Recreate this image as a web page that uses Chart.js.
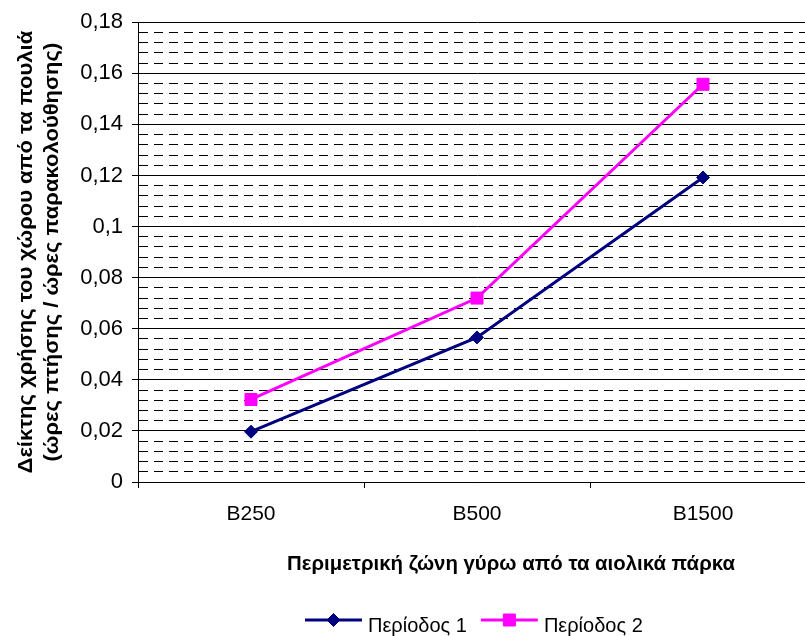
<!DOCTYPE html>
<html>
<head>
<meta charset="utf-8">
<script src="https://cdn.jsdelivr.net/npm/chart.js@4/dist/chart.umd.min.js"></script>
<style>
  html, body { margin: 0; padding: 0; background: #fff; overflow: hidden; }
  canvas { display: block; }
</style>
</head>
<body>
<canvas id="chart" width="830" height="636"></canvas>
<script>
// Categories and series
const zones = ['B250', 'B500', 'B1500'];
const period1 = [0.0197, 0.0566, 0.1192];
const period2 = [0.0323, 0.0720, 0.1557];
const seriesNames = ['Περίοδος 1', 'Περίοδος 2'];

// Axis text
const yTitleLines = ['Δείκτης χρήσης του χώρου από τα πουλιά', '(ώρες πτήσης / ώρες παρακολούθησης)'];
const xTitle = 'Περιμετρική ζώνη γύρω από τα αιολικά πάρκα';

// Value axis range: labelled majors every 0.02, dashed minors every 0.004
const yMin = 0, yMax = 0.18, majorStep = 0.02, minorStep = 0.004;

const FONT = '"Liberation Sans", Arial, sans-serif';
const NAVY = '#000080';
const MAGENTA = '#FF00FF';

function isMajor(v) {
  const r = v / majorStep;
  return Math.abs(r - Math.round(r)) < 1e-6;
}
function formatTick(v) {
  return String(+v.toFixed(4)).replace('.', ',');
}

function drawMarker(ctx, style, x, y, r, color) {
  ctx.save();
  ctx.fillStyle = color;
  ctx.strokeStyle = color;
  ctx.lineWidth = 1;
  ctx.beginPath();
  if (style === 'rectRot') {
    ctx.moveTo(x, y - r); ctx.lineTo(x + r, y); ctx.lineTo(x, y + r); ctx.lineTo(x - r, y);
    ctx.closePath();
  } else {
    const s = Math.SQRT1_2 * r;
    ctx.rect(x - s, y - s, 2 * s, 2 * s);
  }
  ctx.fill(); ctx.stroke();
  ctx.restore();
}

// Axis titles and the legend row underneath the plot
const annotations = {
  id: 'annotations',
  afterDraw(chart) {
    const ctx = chart.ctx;
    const area = chart.chartArea;
    const midY = (area.top + area.bottom) / 2;
    ctx.save();
    ctx.fillStyle = '#000';
    ctx.textAlign = 'center';
    ctx.textBaseline = 'middle';

    ctx.font = 'bold 22px ' + FONT;
    [27, 53].forEach((x, i) => {
      ctx.save();
      ctx.translate(x, midY);
      ctx.scale(0.9, 1);
      ctx.rotate(-Math.PI / 2);
      ctx.fillText(yTitleLines[i], 0, 0);
      ctx.restore();
    });

    ctx.save();
    ctx.font = 'bold 21px ' + FONT;
    ctx.translate(511, 564);
    ctx.scale(0.97, 1);
    ctx.fillText(xTitle, 0, 0);
    ctx.restore();

    // legend
    const ds = chart.data.datasets;
    ctx.font = '20px ' + FONT;
    ctx.textAlign = 'left';
    ctx.textBaseline = 'alphabetic';
    let x = 305;
    const y = 620;
    ds.forEach((d) => {
      ctx.save();
      ctx.strokeStyle = d.borderColor;
      ctx.lineWidth = 3;
      ctx.beginPath();
      ctx.moveTo(x, y); ctx.lineTo(x + 57, y);
      ctx.stroke();
      ctx.restore();
      drawMarker(ctx, d.pointStyle, x + 28.5, y, d.pointRadius, d.borderColor);
      ctx.fillStyle = '#000';
      ctx.fillText(d.label, x + 63, y + 12);
      x += 63 + ctx.measureText(d.label).width + 14;
    });
    ctx.restore();
  }
};

Chart.defaults.font.family = FONT;
Chart.defaults.color = '#000';

new Chart(document.getElementById('chart'), {
  type: 'line',
  data: {
    labels: zones,
    datasets: [
      {
        label: seriesNames[0],
        data: period1,
        borderColor: NAVY,
        backgroundColor: NAVY,
        borderWidth: 3,
        pointStyle: 'rectRot',
        pointRadius: 6.5,
        pointBorderWidth: 1,
        pointHoverRadius: 6.5,
        tension: 0,
        fill: false
      },
      {
        label: seriesNames[1],
        data: period2,
        borderColor: MAGENTA,
        backgroundColor: MAGENTA,
        borderWidth: 3,
        pointStyle: 'rect',
        pointRadius: 8.5,
        pointBorderWidth: 1,
        pointHoverRadius: 8.5,
        tension: 0,
        fill: false
      }
    ]
  },
  options: {
    responsive: false,
    animation: false,
    devicePixelRatio: 1,
    layout: { padding: { left: 0, top: 20, right: 14, bottom: 0 } },
    plugins: {
      legend: { display: false },
      tooltip: { enabled: false },
      title: { display: false }
    },
    scales: {
      x: {
        type: 'category',
        offset: true,
        grid: {
          offset: true,
          drawOnChartArea: false,
          drawTicks: true,
          tickLength: 6,
          tickColor: '#000',
          color: '#000'
        },
        border: { color: '#000', width: 1 },
        ticks: { font: { size: 21 }, padding: 14, color: '#000', maxRotation: 0 },
        afterFit(scale) { scale.height = 154; }
      },
      y: {
        min: yMin,
        max: yMax,
        grid: {
          color: '#000',
          lineWidth: 1,
          drawTicks: true,
          tickLength: 6,
          tickColor: (c) => (c.tick && isMajor(c.tick.value)) ? '#000' : 'rgba(0,0,0,0)'
        },
        border: {
          color: '#000',
          width: 1,
          dash: (c) => (c.tick && !isMajor(c.tick.value)) ? [9, 6] : []
        },
        ticks: {
          stepSize: minorStep,
          maxTicksLimit: 1000,
          autoSkip: false,
          font: { size: 22 },
          padding: 9,
          color: '#000',
          callback: (v) => isMajor(v) ? formatTick(v) : ''
        },
        afterFit(scale) { scale.width = 138; }
      }
    }
  },
  plugins: [annotations]
});
</script>
</body>
</html>
